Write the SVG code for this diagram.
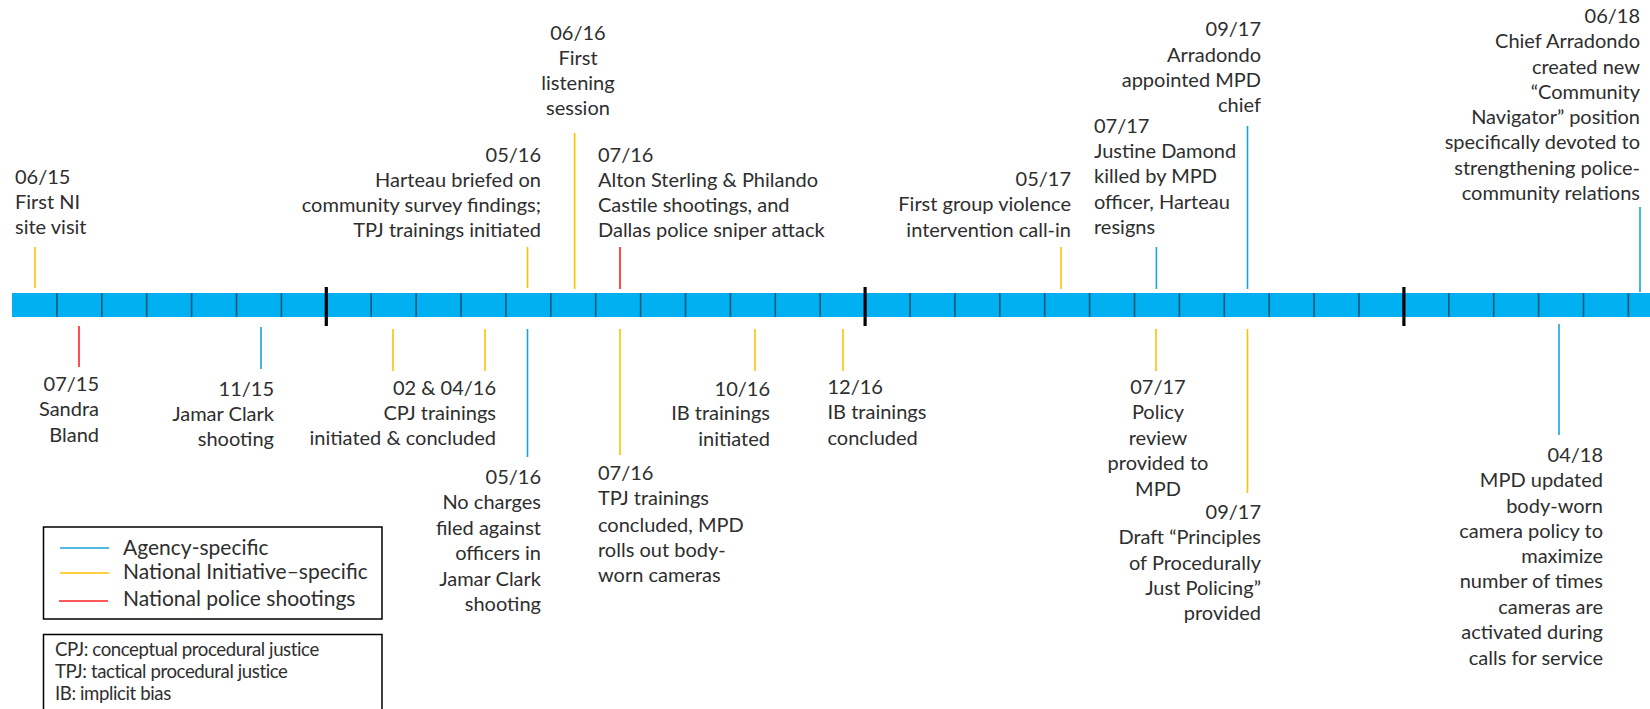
<svg xmlns="http://www.w3.org/2000/svg" width="1650" height="709" viewBox="0 0 1650 709">
<style>
text{font-family:Lato,"Noto Sans","Liberation Sans",sans-serif;font-size:20px;fill:#2e2e2e}
.r{text-anchor:end}
.m{text-anchor:middle}
.lg{font-size:21px}
.ab{font-size:18.6px;letter-spacing:-0.4px}
.b{stroke:#19a3dc;stroke-width:1.6}
.y{stroke:#ffc000;stroke-width:1.6}
.d{stroke:#ff2020;stroke-width:1.6}
.div{stroke:#11587a;stroke-width:1.6}
.yr{stroke:#000;stroke-width:3.2}
</style>
<rect width="1650" height="709" fill="#fff"/>
<g id="timeline-bar">
<rect x="12" y="293" width="1638" height="24" fill="#00b0f0"/>
<g class="div">
<line x1="56.9" y1="293" x2="56.9" y2="317"/><line x1="101.8" y1="293" x2="101.8" y2="317"/><line x1="146.7" y1="293" x2="146.7" y2="317"/><line x1="191.6" y1="293" x2="191.6" y2="317"/><line x1="236.5" y1="293" x2="236.5" y2="317"/><line x1="281.4" y1="293" x2="281.4" y2="317"/>
<line x1="371.2" y1="293" x2="371.2" y2="317"/><line x1="416.1" y1="293" x2="416.1" y2="317"/><line x1="461" y1="293" x2="461" y2="317"/><line x1="505.9" y1="293" x2="505.9" y2="317"/><line x1="550.8" y1="293" x2="550.8" y2="317"/><line x1="595.7" y1="293" x2="595.7" y2="317"/><line x1="640.6" y1="293" x2="640.6" y2="317"/><line x1="685.5" y1="293" x2="685.5" y2="317"/><line x1="730.4" y1="293" x2="730.4" y2="317"/><line x1="775.3" y1="293" x2="775.3" y2="317"/><line x1="820.2" y1="293" x2="820.2" y2="317"/>
<line x1="910" y1="293" x2="910" y2="317"/><line x1="954.9" y1="293" x2="954.9" y2="317"/><line x1="999.8" y1="293" x2="999.8" y2="317"/><line x1="1044.7" y1="293" x2="1044.7" y2="317"/><line x1="1089.6" y1="293" x2="1089.6" y2="317"/><line x1="1134.5" y1="293" x2="1134.5" y2="317"/><line x1="1179.4" y1="293" x2="1179.4" y2="317"/><line x1="1224.3" y1="293" x2="1224.3" y2="317"/><line x1="1269.2" y1="293" x2="1269.2" y2="317"/><line x1="1314.1" y1="293" x2="1314.1" y2="317"/><line x1="1359" y1="293" x2="1359" y2="317"/>
<line x1="1448.8" y1="293" x2="1448.8" y2="317"/><line x1="1493.7" y1="293" x2="1493.7" y2="317"/><line x1="1538.6" y1="293" x2="1538.6" y2="317"/><line x1="1583.5" y1="293" x2="1583.5" y2="317"/><line x1="1628.4" y1="293" x2="1628.4" y2="317"/>
</g>
<g class="yr">
<line x1="326.3" y1="287" x2="326.3" y2="326"/><line x1="865.1" y1="287" x2="865.1" y2="326"/><line x1="1403.9" y1="287" x2="1403.9" y2="326"/>
</g>
</g>
<g id="connectors">
<line class="y" x1="35" y1="247" x2="35" y2="288"/>
<line class="y" x1="527.5" y1="247" x2="527.5" y2="288"/>
<line class="y" x1="574.6" y1="133" x2="574.6" y2="289"/>
<line class="d" x1="620" y1="247" x2="620" y2="289"/>
<line class="y" x1="1061" y1="247" x2="1061" y2="289"/>
<line class="b" x1="1156.4" y1="247" x2="1156.4" y2="289"/>
<line class="b" x1="1247.5" y1="126" x2="1247.5" y2="289"/>
<line class="b" x1="1640" y1="207" x2="1640" y2="292"/>
<line class="d" x1="79" y1="326" x2="79" y2="367"/>
<line class="b" x1="261" y1="327" x2="261" y2="369"/>
<line class="y" x1="393" y1="329" x2="393" y2="371"/>
<line class="y" x1="485" y1="329" x2="485" y2="371"/>
<line class="b" x1="527.5" y1="329" x2="527.5" y2="457"/>
<line class="y" x1="620" y1="329" x2="620" y2="455"/>
<line class="y" x1="755" y1="329" x2="755" y2="371"/>
<line class="y" x1="843" y1="329" x2="843" y2="371"/>
<line class="y" x1="1156" y1="329" x2="1156" y2="371"/>
<line class="y" x1="1247.5" y1="329" x2="1247.5" y2="493"/>
<line class="b" x1="1559" y1="324" x2="1559" y2="435"/>
</g>
<g id="e0615"><text x="15" y="184">06/15</text><text x="15" y="209">First NI</text><text x="15" y="234">site visit</text></g>
<g id="e0516a"><text class="r" x="541" y="162">05/16</text><text class="r" x="541" y="187">Harteau briefed on</text><text class="r" x="541" y="212">community survey findings;</text><text class="r" x="541" y="237">TPJ trainings initiated</text></g>
<g id="e0616"><text class="m" x="578" y="40">06/16</text><text class="m" x="578" y="65">First</text><text class="m" x="578" y="90">listening</text><text class="m" x="578" y="115">session</text></g>
<g id="e0716a"><text x="598" y="162">07/16</text><text x="598" y="187">Alton Sterling &amp; Philando</text><text x="598" y="212">Castile shootings, and</text><text x="598" y="237">Dallas police sniper attack</text></g>
<g id="e0517"><text class="r" x="1071" y="186">05/17</text><text class="r" x="1071" y="211">First group violence</text><text class="r" x="1071" y="237">intervention call-in</text></g>
<g id="e0717a"><text x="1094" y="133">07/17</text><text x="1094" y="158">Justine Damond</text><text x="1094" y="183">killed by MPD</text><text x="1094" y="209">officer, Harteau</text><text x="1094" y="234">resigns</text></g>
<g id="e0917a"><text class="r" x="1261" y="36">09/17</text><text class="r" x="1261" y="62">Arradondo</text><text class="r" x="1261" y="87">appointed MPD</text><text class="r" x="1261" y="112">chief</text></g>
<g id="e0618"><text class="r" x="1640" y="23">06/18</text><text class="r" x="1640" y="48">Chief Arradondo</text><text class="r" x="1640" y="74">created new</text><text class="r" x="1640" y="99">“Community</text><text class="r" x="1640" y="124">Navigator” position</text><text class="r" x="1640" y="149">specifically devoted to</text><text class="r" x="1640" y="175">strengthening police-</text><text class="r" x="1640" y="200">community relations</text></g>
<g id="e0715"><text class="r" x="99" y="391">07/15</text><text class="r" x="99" y="416">Sandra</text><text class="r" x="99" y="442">Bland</text></g>
<g id="e1115"><text class="r" x="274" y="396">11/15</text><text class="r" x="274" y="421">Jamar Clark</text><text class="r" x="274" y="446">shooting</text></g>
<g id="e0216"><text class="r" x="496" y="395">02 &amp; 04/16</text><text class="r" x="496" y="420">CPJ trainings</text><text class="r" x="496" y="445">initiated &amp; concluded</text></g>
<g id="e0516b"><text class="r" x="541" y="484">05/16</text><text class="r" x="541" y="509">No charges</text><text class="r" x="541" y="535">filed against</text><text class="r" x="541" y="560">officers in</text><text class="r" x="541" y="586">Jamar Clark</text><text class="r" x="541" y="611">shooting</text></g>
<g id="e0716b"><text x="598" y="480">07/16</text><text x="598" y="505">TPJ trainings</text><text x="598" y="532">concluded, MPD</text><text x="598" y="557">rolls out body-</text><text x="598" y="582">worn cameras</text></g>
<g id="e1016"><text class="r" x="770" y="396">10/16</text><text class="r" x="770" y="420">IB trainings</text><text class="r" x="770" y="446">initiated</text></g>
<g id="e1216"><text x="827.5" y="394">12/16</text><text x="827.5" y="419">IB trainings</text><text x="827.5" y="445">concluded</text></g>
<g id="e0717b"><text class="m" x="1158" y="394">07/17</text><text class="m" x="1158" y="419">Policy</text><text class="m" x="1158" y="445">review</text><text class="m" x="1158" y="470">provided to</text><text class="m" x="1158" y="496">MPD</text></g>
<g id="e0917b"><text class="r" x="1261" y="519">09/17</text><text class="r" x="1261" y="544">Draft “Principles</text><text class="r" x="1261" y="570">of Procedurally</text><text class="r" x="1261" y="595">Just Policing”</text><text class="r" x="1261" y="620">provided</text></g>
<g id="e0418"><text class="r" x="1603" y="462">04/18</text><text class="r" x="1603" y="487">MPD updated</text><text class="r" x="1603" y="513">body-worn</text><text class="r" x="1603" y="538">camera policy to</text><text class="r" x="1603" y="563">maximize</text><text class="r" x="1603" y="588">number of times</text><text class="r" x="1603" y="614">cameras are</text><text class="r" x="1603" y="639">activated during</text><text class="r" x="1603" y="665">calls for service</text></g>
<g id="legend">
<rect x="43.5" y="527" width="338.5" height="92" fill="none" stroke="#000" stroke-width="1.5"/>
<line class="b" x1="60" y1="548" x2="109" y2="548"/>
<line class="y" x1="60" y1="573" x2="109" y2="573"/>
<line class="d" x1="59" y1="601" x2="108" y2="601"/>
<text class="lg" x="123" y="555">Agency-specific</text>
<text class="lg" x="123" y="579">National Initiative–specific</text>
<text class="lg" x="123" y="606">National police shootings</text>
</g>
<g id="abbreviations">
<rect x="43.5" y="634.5" width="338.5" height="80" fill="none" stroke="#000" stroke-width="1.5"/>
<text class="ab" x="55" y="656">CPJ: conceptual procedural justice</text>
<text class="ab" x="55" y="678">TPJ: tactical procedural justice</text>
<text class="ab" x="55" y="700">IB: implicit bias</text>
</g>
</svg>
